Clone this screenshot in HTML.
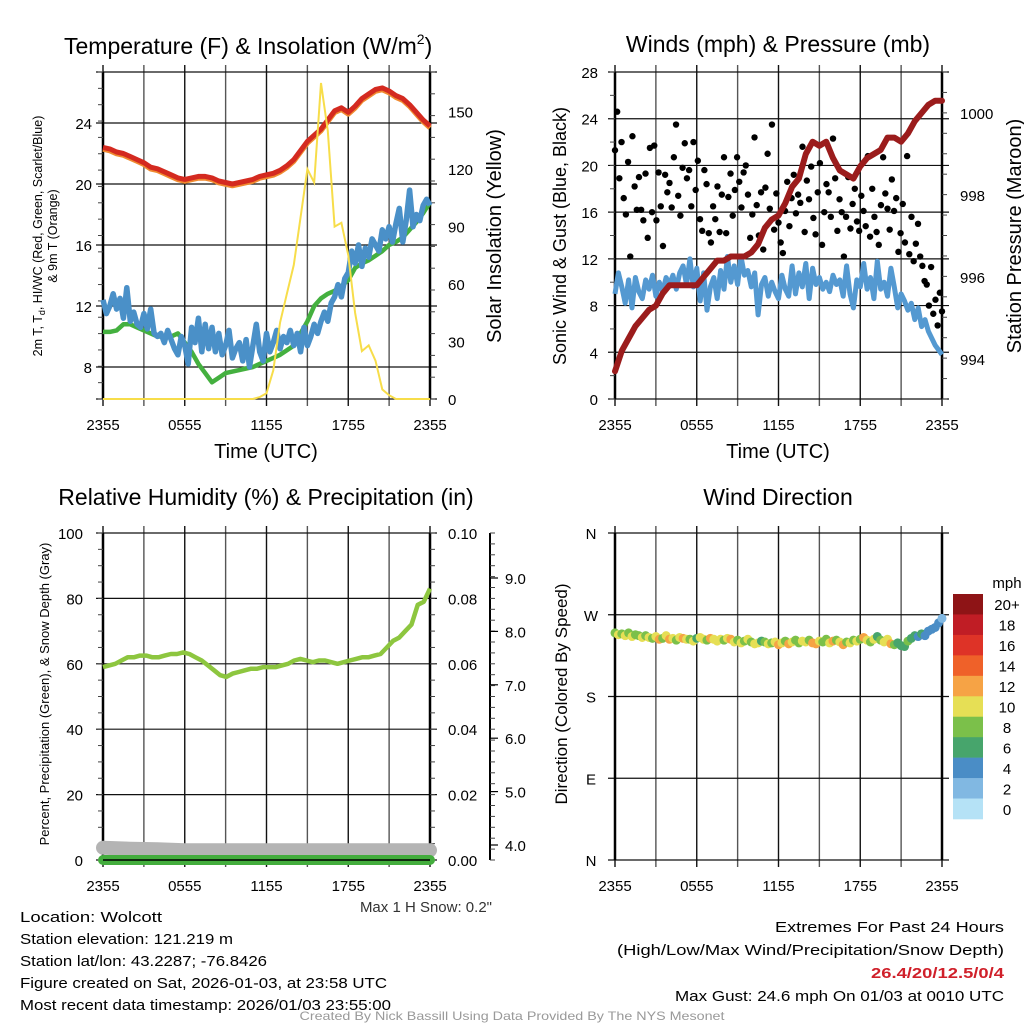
<!DOCTYPE html>
<html><head><meta charset="utf-8"><style>
html,body{margin:0;padding:0;background:#fff;}
svg{display:block;font-family:"Liberation Sans",sans-serif;}
</style></head><body>
<svg id="c" width="1024" height="1024" viewBox="0 0 1024 1024" xmlns="http://www.w3.org/2000/svg">
<rect width="1024" height="1024" fill="#fff"/>
</svg>
<script>
// ---------- DATA ----------
const xTickLabels = ["2355","0555","1155","1755","2355"];
const tempTicks = [8,12,16,20,24];
const solarTicks = [0,30,60,90,120,150];
const windTicks = [0,4,8,12,16,20,24,28];
const presTicks = [994,996,998,1000];
const rhTicks = [0,20,40,60,80,100];
const precipTicks = ["0.00","0.02","0.04","0.06","0.08","0.10"];
const snowTicks = ["4.0","5.0","6.0","7.0","8.0","9.0"];
const dirTicks = ["N","E","S","W","N"];
const cbLabels = ["20+","18","16","14","12","10","8","6","4","2","0"];
const cbColors = ["#8e1416","#c01d25","#de3327","#ef6129","#f6a345","#e6df55","#7bc04a","#47a56c","#4a8dc6","#81b8e2","#b5e2f6"];

const airTemp = [22.4,22.3,22.1,22.0,21.8,21.6,21.4,21.1,21.0,20.8,20.6,20.4,20.3,20.4,20.5,20.5,20.4,20.2,20.1,20.0,20.1,20.2,20.3,20.5,20.6,20.7,20.9,21.2,21.6,22.2,22.8,23.2,23.6,24.2,24.8,25.0,24.7,25.1,25.6,25.9,26.2,26.3,26.1,25.8,25.6,25.2,24.7,24.2,23.8];
const dewPoint = [10.3,10.3,10.4,10.8,10.8,10.6,10.4,10.2,10.0,10.0,10.0,10.2,9.6,9.0,8.2,7.6,7.0,7.3,7.6,7.7,7.8,7.9,8.0,8.2,8.4,8.6,8.8,9.1,9.4,10.2,11.0,12.0,12.5,12.8,13.0,13.3,13.7,14.5,14.8,15.0,15.3,15.6,16.0,16.2,16.5,17.0,17.5,18.1,18.8];
const heatIndex = [12.4,11.5,12.0,12.8,11.8,12.5,11.2,13.2,11.0,11.6,10.8,10.6,11.5,10.5,11.8,10.2,10.0,10.2,9.6,10.4,9.8,9.2,8.8,10.0,9.4,8.2,10.6,9.6,11.2,9.0,10.8,9.2,10.6,9.0,10.2,8.8,9.4,10.4,8.6,9.2,9.6,8.4,9.8,8.0,9.4,10.8,9.0,8.4,10.2,9.0,9.6,10.4,9.2,10.0,9.6,10.4,9.4,10.2,9.0,10.6,9.4,10.0,10.8,10.2,11.0,11.6,11.0,12.2,12.6,13.4,12.6,13.8,14.2,15.6,14.8,16.0,14.6,15.8,15.2,16.4,16.0,15.6,17.0,16.4,17.2,16.2,17.4,18.4,16.2,17.6,19.6,17.2,18.0,17.6,18.6,19.0,18.6];
const solar = [0,0,0,0,0,0,0,0,0,0,0,0,0,0,0,0,0,0,0,0,0,0,0,1,3,15,40,55,70,95,120,113,165,140,90,92,75,45,25,28,20,5,2,0,0,0,0,0,0];

const windSpeed = [9,10.8,9.6,8.2,10.2,7.8,10.4,9.2,8.6,10.2,9.4,10.6,8.8,10.0,9.2,10.4,9.8,10.6,9.4,10.8,11.4,9.8,12.0,9.6,11.2,8.4,10.8,7.6,9.6,10.4,8.6,11.0,9.4,12.2,10.0,11.4,9.8,12.2,10.6,11.0,9.6,10.8,7.2,9.8,10.4,8.8,10.0,9.2,8.6,10.6,9.4,8.8,11.4,9.0,10.8,9.6,11.6,8.6,11.2,9.8,10.4,9.4,10.0,9.2,10.6,9.8,10.2,8.8,11.4,9.0,7.8,10.2,9.6,11.6,9.4,10.4,8.6,11.8,9.4,10.0,8.8,11.2,9.6,7.8,9.0,8.4,7.6,8.2,6.8,7.8,6.2,6.8,5.8,5.2,4.6,4.2,3.8];
const windGust = [21.3,24.6,18.9,22.0,17.2,15.8,20.3,12.2,22.5,18.2,16.2,19.0,16.2,15.3,19.3,13.8,21.5,16.0,21.7,15.3,19.4,16.5,13.1,19.2,17.7,18.5,16.4,20.7,23.5,17.4,15.7,19.8,21.9,18.9,19.6,16.5,22.0,17.9,20.4,15.4,14.4,19.6,18.4,14.2,13.4,16.5,15.4,18.2,14.3,17.5,20.7,14.2,17.3,19.3,15.7,17.9,20.7,18.6,16.4,19.4,20.0,17.5,13.8,15.8,22.4,16.6,14.0,17.7,12.8,18.1,21.0,16.3,23.5,14.5,17.6,15.1,13.4,12.5,16.1,18.6,14.8,17.2,19.2,15.9,17.5,16.8,21.6,14.3,18.7,17.1,19.9,15.5,14.1,17.7,20.2,13.2,16.0,18.4,17.7,15.6,22.3,18.9,14.4,17.1,16.0,12.2,15.6,19.0,14.6,16.7,18.0,15.2,14.4,17.4,16.1,14.8,20.8,13.9,18.0,15.6,14.3,13.2,16.6,20.7,17.6,16.3,14.5,18.8,16.1,17.2,12.6,14.2,16.7,13.4,20.8,12.4,15.6,11.8,13.3,15.0,12.2,11.4,10.1,9.8,8.0,11.3,7.3,8.5,6.3,9.1,7.5];
const pressure = [993.7,994.2,994.5,994.8,995.0,995.2,995.3,995.6,995.8,995.8,995.8,995.8,995.8,996.0,996.2,996.4,996.4,996.5,996.5,996.5,996.6,996.8,997.2,997.4,997.5,997.8,998.2,998.4,999.0,999.3,999.2,999.3,998.9,998.6,998.5,998.4,998.7,998.9,999.0,999.1,999.4,999.4,999.3,999.5,999.8,1000.0,1000.2,1000.3,1000.3];

const relHumidity = [59,59.5,60,61,62,62,62.5,62.5,62,62,62.5,63,63,63.5,63,62,61,59.5,58,56.5,56,57,57.5,58,58.5,58.5,59,59,59,59.5,60,61,61.5,61,60.5,61,61,60.5,60,60.5,61,61.5,62,62,62.5,63,65,67,68,70,72,78,79,83];
const precip = [0,0,0,0,0,0,0,0,0,0,0,0,0];
const snowDepth = [3.95,3.93,3.92,3.9,3.9,3.9,3.9,3.9,3.9,3.9,3.9,3.9,3.9];

const windDir = [250,248,249,247,250,246,248,247,245,247,245,244,246,243,244,247,243,244,242,245,244,243,243,241,244,245,243,242,244,243,241,243,242,244,243,240,242,239,241,243,240,238,239,241,240,238,239,240,237,239,241,238,240,242,239,241,240,242,239,238,241,240,243,239,241,242,240,237,240,239,242,241,243,245,242,240,243,246,242,240,243,238,237,239,236,235,241,244,247,246,249,247,252,254,256,261,266];
const dirSpeed = [8,10,9,10,8,10,9,8,10,9,10,8,10,13,9,10,12,10,9,11,13,10,9,10,7,10,11,9,12,10,10,11,9,10,13,10,9,10,8,10,9,11,10,7,9,10,8,10,12,10,9,13,10,8,9,11,10,8,13,12,10,9,8,10,12,9,10,13,8,10,9,10,8,12,11,9,10,7,8,10,11,12,8,7,6,7,8,6,7,5,6,5,4,5,4,4,3];

// ---------- HELPERS ----------
const NS="http://www.w3.org/2000/svg";
const svg=document.getElementById('c');
function mk(tag,attrs,parent){const e=document.createElementNS(NS,tag);for(const k in attrs)e.setAttribute(k,attrs[k]);(parent||svg).appendChild(e);return e;}
function txt(s,attrs,parent){const e=mk('text',attrs,parent);e.textContent=s;return e;}
function linScale(d0,d1,r0,r1){return v=>r0+(v-d0)*(r1-r0)/(d1-d0);}
function seriesX(arr,x0,x1){return i=>x0+i*(x1-x0)/(arr.length-1);}
function pathFrom(arr,xs,ys){let d='';arr.forEach((v,i)=>{d+=(i?'L':'M')+xs(i).toFixed(1)+','+ys(v).toFixed(1);});return d;}

function frame(g,x0,x1,y0,y1,hGridYs){
  for(let h=0;h<=24;h+=3){
    const x=x0+h*(x1-x0)/24;
    const l=mk('line',{x1:x,x2:x,y1:y0-7,y2:y1+7,stroke:(h%6==0?'#111':'#555'),'stroke-width':1.4},g);
    
    
  }
  hGridYs.forEach(y=>{
    const l=mk('line',{x1:x0-7,x2:x1+7,y1:y,y2:y,stroke:'#111','stroke-width':1.2},g);
    
    
  });
  mk('line',{x1:x0,x2:x0,y1:y0,y2:y1,stroke:'#000','stroke-width':2.5},g);
  mk('line',{x1:x1,x2:x1,y1:y0,y2:y1,stroke:'#000','stroke-width':2.5},g);
  xTickLabels.forEach((s,i)=>{
    const t=txt(s,{x:x0+i*(x1-x0)/4,y:y1+31,'font-size':15,'text-anchor':'middle',fill:'#000'},g);
    
    
  });
}
function minorTicks(g,x,y0,y1,n,dir){
  for(let i=0;i<=n;i++){const y=y0+i*(y1-y0)/n;mk('line',{x1:x,x2:x+dir*5,y1:y,y2:y,stroke:'#444','stroke-width':1},g);}
}

// ---------- PANEL 1: Temperature ----------
(function(){
  const g=mk('g',{});
  const X0=103,X1=430,Y0=72,Y1=399;
  const yT=linScale(8,24,367,123), yS=linScale(0,150,399,111.7);
  frame(g,X0,X1,Y0,Y1,tempTicks.map(yT).concat([Y0,Y1]));
  minorTicks(g,X0,Y0,Y1,20,-1);minorTicks(g,X1,Y0,Y1,15,1);
  tempTicks.forEach(v=>{const t=txt(String(v),{x:X0-11,y:yT(v)+6,'font-size':15,'text-anchor':'end'},g);});
  solarTicks.forEach(v=>{const t=txt(String(v),{x:X1+18,y:yS(v)+6,'font-size':15},g);});
  const xs1=seriesX(airTemp,X0,X1);
  let p=mk('path',{d:pathFrom(airTemp,xs1,v=>yT(v-0.12)),fill:'none',stroke:'#f08a30','stroke-width':5,'stroke-linejoin':'round'},g);
  
  p=mk('path',{d:pathFrom(airTemp,xs1,yT),fill:'none',stroke:'#d42a20','stroke-width':5,'stroke-linejoin':'round'},g);
  
  p=mk('path',{d:pathFrom(dewPoint,seriesX(dewPoint,X0,X1),yT),fill:'none',stroke:'#44b03f','stroke-width':4.5,'stroke-linejoin':'round'},g);
  
  p=mk('path',{d:pathFrom(heatIndex,seriesX(heatIndex,X0,X1),yT),fill:'none',stroke:'#4a90c8','stroke-width':5.5,'stroke-linejoin':'round'},g);
  
  p=mk('path',{d:pathFrom(solar,seriesX(solar,X0,X1),yS),fill:'none',stroke:'#f7dd4a','stroke-width':2},g);
  
  let t=txt('Temperature (F) & Insolation (W/m',{x:64,y:54,'font-size':23},g);
  mk('tspan',{'font-size':14,dy:-10},t).textContent='2';
  mk('tspan',{'font-size':23,dy:10},t).textContent=')';
  
  t=txt('Time (UTC)',{x:266,y:458,'font-size':20,'text-anchor':'middle'},g);
  t=txt('Solar Insolation (Yellow)',{x:0,y:0,'font-size':20,'text-anchor':'middle',transform:'translate(501,236) rotate(-90)'},g);
  t=txt('',{x:0,y:0,'font-size':12.5,'text-anchor':'middle',transform:'translate(42,236) rotate(-90)'},g);
  mk('tspan',{},t).textContent='2m T, T';mk('tspan',{'font-size':9,dy:3},t).textContent='d';mk('tspan',{dy:-3},t).textContent=', HI/WC (Red, Green, Scarlet/Blue)';
  
  t=txt('& 9m T (Orange)',{x:0,y:0,'font-size':12.5,'text-anchor':'middle',transform:'translate(57,236) rotate(-90)'},g);
})();

// ---------- PANEL 2: Winds ----------
(function(){
  const g=mk('g',{});
  const X0=615,X1=942,Y0=72,Y1=399;
  const yW=linScale(0,28,399,72), yP=linScale(994,1000,359,113);
  frame(g,X0,X1,Y0,Y1,windTicks.map(yW));
  minorTicks(g,X0,Y0,Y1,14,-1);minorTicks(g,X1,Y0,Y1,16,1);
  windTicks.forEach(v=>{const t=txt(String(v),{x:X0-17,y:yW(v)+6,'font-size':15,'text-anchor':'end'},g);});
  presTicks.forEach(v=>{const t=txt(String(v),{x:X1+18,y:yP(v)+6,'font-size':15},g);});
  let p=mk('path',{d:pathFrom(windSpeed,seriesX(windSpeed,X0,X1),yW),fill:'none',stroke:'#5499d1','stroke-width':5,'stroke-linejoin':'round'},g);
  
  const xg=seriesX(windGust,X0,X1);
  windGust.forEach((v,i)=>{const c=mk('circle',{cx:xg(i),cy:yW(v),r:3.2,fill:'#000'},g);
    });
  p=mk('path',{d:pathFrom(pressure,seriesX(pressure,X0,X1),yP),fill:'none',stroke:'#9b1c1c','stroke-width':6,'stroke-linejoin':'round','stroke-linecap':'round'},g);
  
  let t=txt('Winds (mph) & Pressure (mb)',{x:778,y:52,'font-size':23,'text-anchor':'middle'},g);
  t=txt('Time (UTC)',{x:778,y:458,'font-size':20,'text-anchor':'middle'},g);
  t=txt('Sonic Wind & Gust (Blue, Black)',{x:0,y:0,'font-size':18,'text-anchor':'middle',transform:'translate(566,236) rotate(-90)'},g);
  t=txt('Station Pressure (Maroon)',{x:0,y:0,'font-size':20,'text-anchor':'middle',transform:'translate(1021,236) rotate(-90)'},g);
})();

// ---------- PANEL 3: RH ----------
(function(){
  const g=mk('g',{});
  const X0=103,X1=430,Y0=533,Y1=860;
  const yR=linScale(0,100,860,533), ySn=linScale(4,9,845,578);
  frame(g,X0,X1,Y0,Y1,rhTicks.map(yR));
  minorTicks(g,X0,Y0,Y1,20,-1);minorTicks(g,X1,Y0,Y1,20,1);
  mk('line',{x1:490,x2:490,y1:Y0,y2:Y1,stroke:'#000','stroke-width':2},g);
  for(let i=0;i<=30;i++){const y=Y0+i*(Y1-Y0)/30;mk('line',{x1:490,x2:495,y1:y,y2:y,stroke:'#444','stroke-width':1},g);}
  rhTicks.forEach(v=>{const t=txt(String(v),{x:X0-20,y:yR(v)+6,'font-size':15,'text-anchor':'end'},g);});
  precipTicks.forEach((s,i)=>{const t=txt(s,{x:X1+18,y:yR(i*20)+6,'font-size':15},g);});
  snowTicks.forEach(s=>{const v=parseFloat(s);mk('line',{x1:490,x2:498,y1:ySn(v),y2:ySn(v),stroke:'#000','stroke-width':1.2},g);
    const t=txt(s,{x:505,y:ySn(v)+6,'font-size':15},g);});
  let p=mk('path',{d:pathFrom(snowDepth,seriesX(snowDepth,X0,X1),ySn),fill:'none',stroke:'#b4b4b4','stroke-width':14,'stroke-linecap':'round'},g);
  
  p=mk('path',{d:pathFrom(precip,seriesX(precip,X0,X1),v=>yR(v*1000)),fill:'none',stroke:'#43ad3d','stroke-width':10,'stroke-linecap':'round'},g);
  
  mk('line',{x1:X0,x2:X1,y1:Y1,y2:Y1,stroke:'#000','stroke-width':1.5},g);
  p=mk('path',{d:pathFrom(relHumidity,seriesX(relHumidity,X0,X1),yR),fill:'none',stroke:'#8dc63f','stroke-width':4.5,'stroke-linejoin':'round'},g);
  
  let t=txt('Relative Humidity (%) & Precipitation (in)',{x:266,y:505,'font-size':23,'text-anchor':'middle'},g);
  t=txt('Percent, Precipitation (Green), & Snow Depth (Gray)',{x:0,y:0,'font-size':13,'text-anchor':'middle',transform:'translate(49,694) rotate(-90)'},g);
  t=txt('Max 1 H Snow: 0.2"',{x:492,y:912,'font-size':15,'text-anchor':'end',fill:'#333'},g);
})();

// ---------- PANEL 4: Wind direction ----------
(function(){
  const g=mk('g',{});
  const X0=615,X1=942,Y0=533,Y1=860;
  const yD=linScale(0,360,860,533);
  frame(g,X0,X1,Y0,Y1,[0,90,180,270,360].map(yD));
  dirTicks.forEach((s,i)=>{const t=txt(s,{x:591,y:yD(i*90)+6,'font-size':15,'text-anchor':'middle'},g);});
  const xd=seriesX(windDir,X0,X1);
  function colorFor(s){let k=Math.min(10,Math.floor(s/2));return cbColors[10-k];}
  windDir.forEach((v,i)=>{const c=mk('circle',{cx:xd(i),cy:yD(v),r:4.5,fill:colorFor(dirSpeed[i])},g);
    });
  const cbTop=594,cbH=225/11;
  cbColors.forEach((col,i)=>{const r=mk('rect',{x:953,y:cbTop+i*cbH,width:30,height:cbH+0.3,fill:col},g);
    
    const t=txt(cbLabels[i],{x:1007,y:cbTop+i*cbH+cbH/2+6,'font-size':15,'text-anchor':'middle'},g);
    });
  let t=txt('mph',{x:1007,y:588,'font-size':15,'text-anchor':'middle'},g);
  t=txt('Wind Direction',{x:778,y:505,'font-size':23,'text-anchor':'middle'},g);
  t=txt('Direction (Colored By Speed)',{x:0,y:0,'font-size':17,'text-anchor':'middle',transform:'translate(567,694) rotate(-90)'},g);
})();

// ---------- FOOTER TEXT ----------
(function(){
  const g=mk('g',{});
  const lines=[["Location: Wolcott",142],["Station elevation: 121.219 m",213],["Station lat/lon: 43.2287; -76.8426",247],["Figure created on Sat, 2026-01-03, at 23:58 UTC",367],["Most recent data timestamp: 2026/01/03 23:55:00",371]];
  lines.forEach((l,i)=>{const t=txt(l[0],{x:20,y:922+i*22,'font-size':15,textLength:l[1],lengthAdjust:'spacingAndGlyphs'},g);
    });
  let t=txt('Extremes For Past 24 Hours',{x:1004,y:932,'font-size':15,'text-anchor':'end',textLength:229,lengthAdjust:'spacingAndGlyphs'},g);
  t=txt('(High/Low/Max Wind/Precipitation/Snow Depth)',{x:1004,y:955,'font-size':15,'text-anchor':'end',textLength:387,lengthAdjust:'spacingAndGlyphs'},g);
  t=txt('26.4/20/12.5/0/4',{x:1004,y:978,'font-size':15,'font-weight':'bold','text-anchor':'end',fill:'#d0202a',textLength:133,lengthAdjust:'spacingAndGlyphs'},g);
  t=txt('Max Gust: 24.6 mph On 01/03 at 0010 UTC',{x:1004,y:1001,'font-size':15,'text-anchor':'end',textLength:329,lengthAdjust:'spacingAndGlyphs'},g);
  t=txt('Created By Nick Bassill Using Data Provided By The NYS Mesonet',{x:512,y:1020,'font-size':12,'text-anchor':'middle',fill:'#999',textLength:425,lengthAdjust:'spacingAndGlyphs'},g);
})();
</script>
</body></html>
